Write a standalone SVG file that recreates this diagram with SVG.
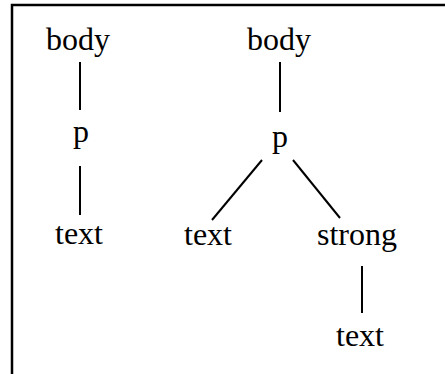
<svg xmlns="http://www.w3.org/2000/svg" width="445" height="374" viewBox="0 0 445 374">
  <style>
    .lbl { font-family: "Liberation Serif", "Times New Roman", serif; font-size: 32px; fill: #000; text-anchor: middle; }
    .edge { stroke: #000; stroke-width: 2; fill: none; }
    .frame { stroke: #000; stroke-width: 2.5; fill: none; }
  </style>
  <rect width="445" height="374" fill="#fff"/>
  <!-- open frame: top and left edges only -->
  <path class="frame" d="M12,374 V5 H445"/>

  <g id="connectors">
    <line class="edge" x1="80" y1="62" x2="80" y2="110"/>
    <line class="edge" x1="80" y1="166" x2="80" y2="215"/>
    <line class="edge" x1="280" y1="62" x2="280" y2="112"/>
    <line class="edge" x1="262" y1="160" x2="212" y2="220"/>
    <line class="edge" x1="293" y1="160" x2="340" y2="218"/>
    <line class="edge" x1="362" y1="266" x2="362" y2="313"/>
  </g>

  <!-- left tree -->
  <g id="body1"><text class="lbl" x="78" y="50">body</text></g>
  <g id="p1"><text class="lbl" x="81" y="142">p</text></g>
  <g id="text1"><text class="lbl" x="79" y="244">text</text></g>

  <!-- right tree -->
  <g id="body2"><text class="lbl" x="279" y="50">body</text></g>
  <g id="p2"><text class="lbl" x="280" y="147">p</text></g>
  <g id="text2"><text class="lbl" x="208" y="245">text</text></g>
  <g id="strong"><text class="lbl" x="357" y="245">strong</text></g>
  <g id="text3"><text class="lbl" x="360" y="346">text</text></g>
</svg>
